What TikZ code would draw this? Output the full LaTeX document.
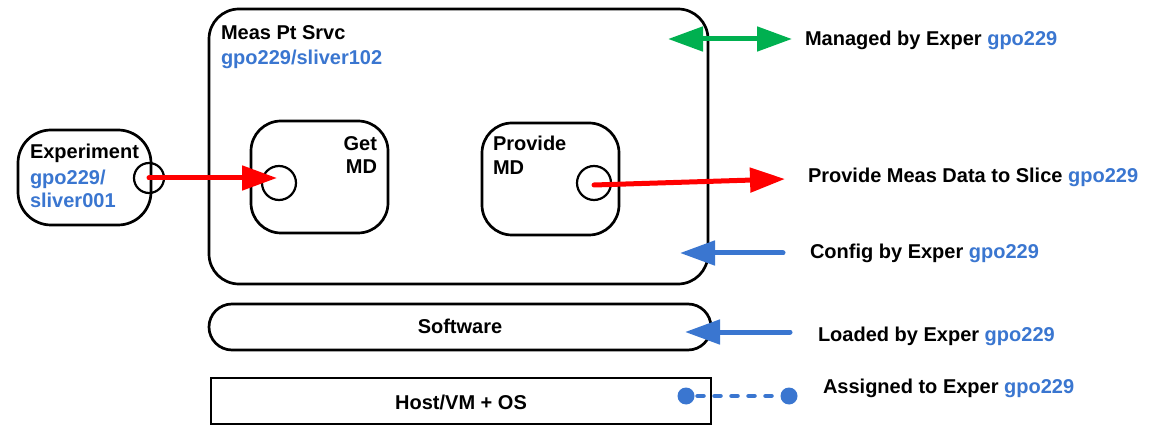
\documentclass[tikz,border=0pt]{standalone}
\usepackage{fontspec}
\setmainfont{Liberation Sans}
\usetikzlibrary{arrows.meta}
\definecolor{myblue}{RGB}{58,118,208}
\definecolor{mygreen}{RGB}{0,176,80}
\definecolor{myred}{RGB}{255,0,0}
\begin{document}
\begin{tikzpicture}[x=1pt,y=-1pt,
 every node/.style={font=\fontsize{20}{24}\selectfont\bfseries, inner sep=0pt, outer sep=0pt},
 box/.style={draw, line width=2.7pt, rounded corners=30pt},
 port/.style={draw, circle, line width=2.2pt},
 lbl/.style={anchor=base west},
 arr/.style={line width=5pt, line cap=round, -{Triangle[length=35pt,width=24pt]}},
 dbl/.style={line width=5pt, {Triangle[length=35pt,width=24pt]}-{Triangle[length=35pt,width=24pt]}},
 dot/.style={circle, fill=myblue, minimum size=17pt},
]
\useasboundingbox (0,0) rectangle (1150,427);
% boxes
\node[box, minimum width=499pt, minimum height=275pt] (meas) at (458.5,146.5) {};
\node[box, rounded corners=33pt, minimum width=133pt, minimum height=95pt] (exp) at (84.5,177.5) {};
\node[box, minimum width=137pt, minimum height=112pt] (get) at (319.5,177) {};
\node[box, minimum width=137pt, minimum height=112pt] (prov) at (550.5,179) {};
\node[box, rounded corners=23pt, minimum width=502pt, minimum height=46pt] (soft) at (460,327) {};
\node[draw, line width=2.7pt, minimum width=500pt, minimum height=46pt] (host) at (461,401) {};
% texts in boxes
\node[lbl] (meast) at (221,40) {Meas Pt Srvc};
\node[lbl, text=myblue] (measid) at (221,65) {gpo229/sliver102};
\node[lbl] (expt) at (30,159) {Experiment};
\node[lbl, text=myblue] (expid1) at (30,185) {gpo229/};
\node[lbl, text=myblue] (expid2) at (30,208) {sliver001};
\node[anchor=base east] (gett1) at (377,151) {Get};
\node[anchor=base east] (gett2) at (377,174) {MD};
\node[lbl] (provt1) at (493,151) {Provide};
\node[lbl] (provt2) at (493,175) {MD};
\node[anchor=base] (softt) at (460,334) {Software};
\node[anchor=base] (hostt) at (461,409) {Host/VM + OS};
% ports
\node[port, minimum size=30pt] (expport) at (149,178) {};
\node[port, minimum size=34pt] (getport) at (279,183) {};
\node[port, minimum size=34pt] (provport) at (594,183) {};
% free ends
\coordinate (g1) at (668,39);
\coordinate (g2) at (792,39);
\coordinate (r2) at (785,179);
\coordinate (c1) at (783,253);
\coordinate (c2) at (680,253);
\coordinate (l1) at (790,332);
\coordinate (l2) at (685,332);
\node[dot] (d1) at (686,396) {};
\node[dot] (d2) at (789,396) {};
% connectors
\draw[dbl, mygreen] (g1) -- (g2);
\draw[arr, myred] (expport.center) -- ([xshift=-2pt]expport.center -| getport.center);
\draw[arr, myred] ([yshift=-2pt]provport.center) -- (r2);
\draw[arr, myblue] (c1) -- (c2);
\draw[arr, myblue] (l1) -- (l2);
\draw[myblue, line width=4.5pt, line cap=round, dash pattern=on 6pt off 11pt, dash phase=-3pt] (d1) -- (d2);
% legend labels
\node[lbl] (lm) at (805,46) {Managed by Exper \textcolor{myblue}{gpo229}};
\node[lbl] (lp) at (808,183) {Provide Meas Data to Slice \textcolor{myblue}{gpo229}};
\node[lbl] (lc) at (810,259) {Config by Exper \textcolor{myblue}{gpo229}};
\node[lbl] (ll) at (818,341) {Loaded by Exper \textcolor{myblue}{gpo229}};
\node[lbl] (la) at (823,393) {Assigned to Exper \textcolor{myblue}{gpo229}};
\end{tikzpicture}
\end{document}
